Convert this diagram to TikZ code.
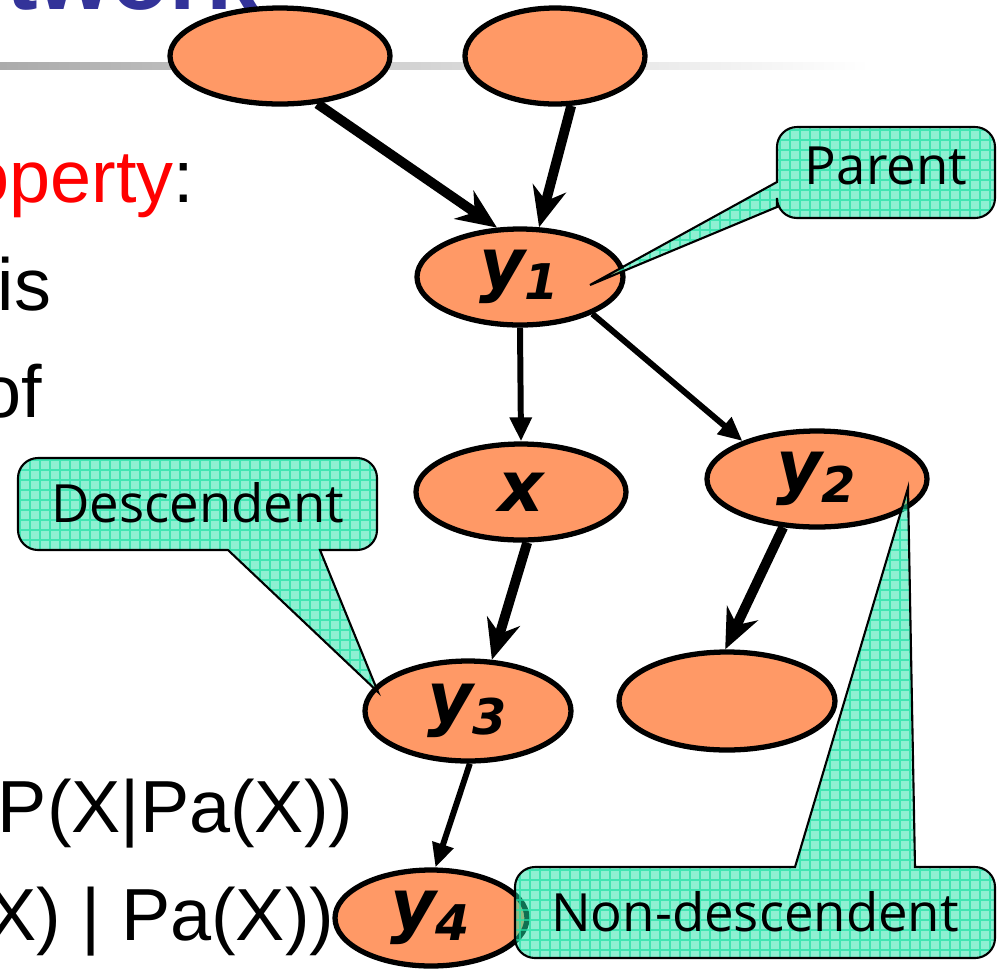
\documentclass[tikz,border=0pt]{standalone}
\usepackage{fontspec}
\setmainfont{Liberation Sans}
\newfontfamily\notefont{Open Sans}
\newfontfamily\varfont{DejaVu Sans}
\usetikzlibrary{shapes.geometric,arrows.meta}

\definecolor{nodeorange}{RGB}{255,153,102}
\definecolor{notegreen}{RGB}{30,225,165}
\definecolor{titleblue}{RGB}{51,51,153}

\tikzset{
    var/.style = {ellipse, draw = black, line width = 1.5pt, fill = nodeorange,
        inner sep = 0pt, font = \varfont\bfseries\itshape\fontsize{20}{22}\selectfont},
    heavy/.style = {-{Stealth[length = 4mm, width = 3.4mm, inset = 1.3mm]}, line width = 2.8pt},
    light/.style = {-{Triangle[length = 2.4mm, width = 2.1mm]}, line width = 1.7pt},
    bubble/.style = {draw = black, line width = 0.6pt, fill = notegreen, fill opacity = 0.5,
        path picture = {\draw [notegreen, draw opacity = 0.7, line width = 0.3pt]
            (path picture bounding box.south west) grid [step = 1mm]
            (path picture bounding box.north east);}},
    bubbletext/.style = {font = \notefont\fontsize{15}{18}\selectfont, inner sep = 0pt},
    slidetext/.style = {font = \fontsize{21}{25}\selectfont, inner sep = 0pt, anchor = base east}
}

\begin{document}
\begin{tikzpicture}
    \useasboundingbox (0, 0) rectangle (10.04, -9.69);

    % slide behind the network
    \shade [left color = black!33, right color = white] (0, -0.62) rectangle (8.7, -0.69);
    \node [font = \bfseries\fontsize{27}{30}\selectfont, text = titleblue,
        anchor = base east, inner sep = 0pt] (title) at (2.60, -0.09) {Network};
    \node [slidetext] (prop) at (1.95, -2.02) {\textcolor{red}{property}:};
    \node [slidetext] (is) at (0.52, -3.10) {is};
    \node [slidetext] (of) at (0.43, -4.17) {of};
    \node [slidetext] (cpd) at (3.54, -8.32) {=P(X|Pa(X))};
    \node [slidetext] (indep) at (3.35, -9.40) {X) | Pa(X))};

    % variables
    \node [var, minimum width = 2.20cm, minimum height = 0.96cm] (pa1) at (2.80, -0.56) {};
    \node [var, minimum width = 1.80cm, minimum height = 0.96cm] (pa2) at (5.55, -0.56) {};
    \node [var, minimum width = 2.06cm, minimum height = 0.96cm] (y1) at (5.20, -2.77) {y\textsubscript{1}};
    \node [var, minimum width = 2.10cm, minimum height = 0.96cm] (x) at (5.21, -4.92) {x};
    \node [var, minimum width = 2.20cm, minimum height = 0.96cm] (y2) at (8.17, -4.79) {y\textsubscript{2}};
    \node [var, minimum width = 2.06cm, minimum height = 1.00cm] (y3) at (4.68, -7.11) {y\textsubscript{3}};
    \node [var, minimum width = 2.16cm, minimum height = 0.98cm] (ch) at (7.27, -7.01) {};
    \node [var, minimum width = 1.92cm, minimum height = 0.96cm] (y4) at (4.31, -9.18) {y\textsubscript{4}};

    % edges
    \draw [heavy] (pa1.-52) -- (y1.115);
    \draw [heavy] (pa2.-72) -- (y1.69);
    \draw [light] (y1.-90) -- (x.90);
    \draw [light] (y1.-27) -- (y2.153);
    \draw [heavy] (x.-83) -- (y3.65);
    \draw [heavy] (y2.-125) -- (ch.92);
    \draw [light] (y3.-88) -- (y4.85);

    % callouts
    \coordinate (parenttip) at (5.90, -2.85);
    \coordinate (desctip) at (3.78, -6.92);
    \coordinate (nondesctip) at (9.08, -4.88);

    \draw [bubble] (7.77, -1.82) [rounded corners = 0.2cm] -- (7.77, -1.27) -- (9.95, -1.27)
        -- (9.95, -2.18) -- (7.77, -2.18) [sharp corners] -- (7.77, -2.07) -- (parenttip) -- cycle;
    \draw [bubble] (3.20, -5.50) [rounded corners = 0.2cm] -- (3.77, -5.50) -- (3.77, -4.58)
        -- (0.18, -4.58) -- (0.18, -5.50) [sharp corners] -- (2.28, -5.50) -- (desctip) -- cycle;
    \draw [bubble] (7.95, -8.67) [rounded corners = 0.2cm] -- (5.15, -8.67) -- (5.15, -9.58)
        -- (9.95, -9.58) -- (9.95, -8.67) [sharp corners] -- (9.15, -8.67) -- (nondesctip) -- cycle;

    \node [bubbletext] (parent) at (8.86, -1.66) {Parent};
    \node [bubbletext] (desc) at (1.98, -5.03) {Descendent};
    \node [bubbletext] (nondesc) at (7.55, -9.12) {Non-descendent};
\end{tikzpicture}
\end{document}
